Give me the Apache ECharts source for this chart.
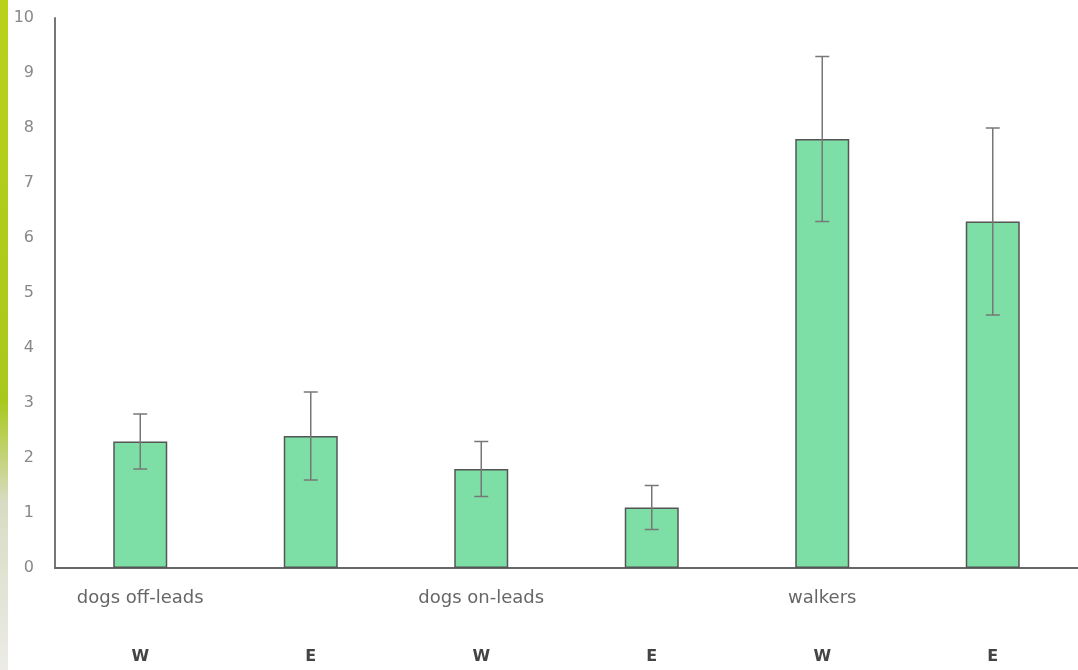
<!DOCTYPE html>
<html>
<head>
<meta charset="utf-8">
<script src="https://cdn.jsdelivr.net/npm/echarts@6/dist/echarts.min.js"></script>
<style>
  html, body { margin: 0; padding: 0; background: #fff; }
  #chart { width: 1078px; height: 670px; }
  #strip { position: absolute; left: 0; top: 0; width: 8px; height: 670px;
    background: linear-gradient(#b9d11a, #a9c81c 60%, #d8dcc4 75%, #ecebe6); }
</style>
</head>
<body>
<div id="strip"></div>
<div id="chart"></div>
<script>
// values
var groups = ['dogs off-leads', '', 'dogs on-leads', '', 'walkers', ''];
var sides = ['W', 'E', 'W', 'E', 'W', 'E'];
var means = [2.3, 2.4, 1.8, 1.1, 7.8, 6.3];
var lows = [1.8, 1.6, 1.3, 0.7, 6.3, 4.6];
var highs = [2.8, 3.2, 2.3, 1.5, 9.3, 8.0];

var errData = [];
for (var i = 0; i < means.length; i++) {
  errData.push([i, lows[i], highs[i]]);
}

var chart = echarts.init(document.getElementById('chart'));

chart.setOption({
  animation: false,
  textStyle: { fontFamily: 'DejaVu Sans, sans-serif' },
  grid: { left: 55, right: 0, top: 18, bottom: 102 },
  xAxis: [{
    type: 'category',
    data: groups,
    axisLine: { lineStyle: { color: '#666', width: 2 } },
    axisTick: { show: false },
    axisLabel: { interval: 0, margin: 21, fontSize: 18, color: '#666' }
  }, {
    type: 'category',
    data: sides,
    position: 'bottom',
    axisLine: { show: false },
    axisTick: { show: false },
    axisLabel: { interval: 0, margin: 81, fontSize: 16, color: '#444', fontWeight: 'bold' }
  }],
  yAxis: {
    type: 'value',
    min: 0,
    max: 10,
    interval: 1,
    axisLine: { show: true, lineStyle: { color: '#777', width: 2 } },
    axisTick: { show: false },
    splitLine: { show: false },
    axisLabel: { margin: 21, fontSize: 16, color: '#888' }
  },
  series: [{
    type: 'bar',
    data: means,
    barWidth: 54,
    itemStyle: { color: '#7ddfa6', borderColor: '#555', borderWidth: 1.5 }
  }, {
    type: 'custom',
    data: errData,
    z: 5,
    renderItem: function (params, api) {
      var lo = api.coord([api.value(0), api.value(1)]);
      var hi = api.coord([api.value(0), api.value(2)]);
      var cap = 7;
      var style = { stroke: '#777', lineWidth: 1.5 };
      return {
        type: 'group',
        children: [
          { type: 'line', shape: { x1: hi[0], y1: hi[1], x2: lo[0], y2: lo[1] }, style: style },
          { type: 'line', shape: { x1: hi[0] - cap, y1: hi[1], x2: hi[0] + cap, y2: hi[1] }, style: style },
          { type: 'line', shape: { x1: lo[0] - cap, y1: lo[1], x2: lo[0] + cap, y2: lo[1] }, style: style }
        ]
      };
    }
  }]
});
</script>
</body>
</html>
